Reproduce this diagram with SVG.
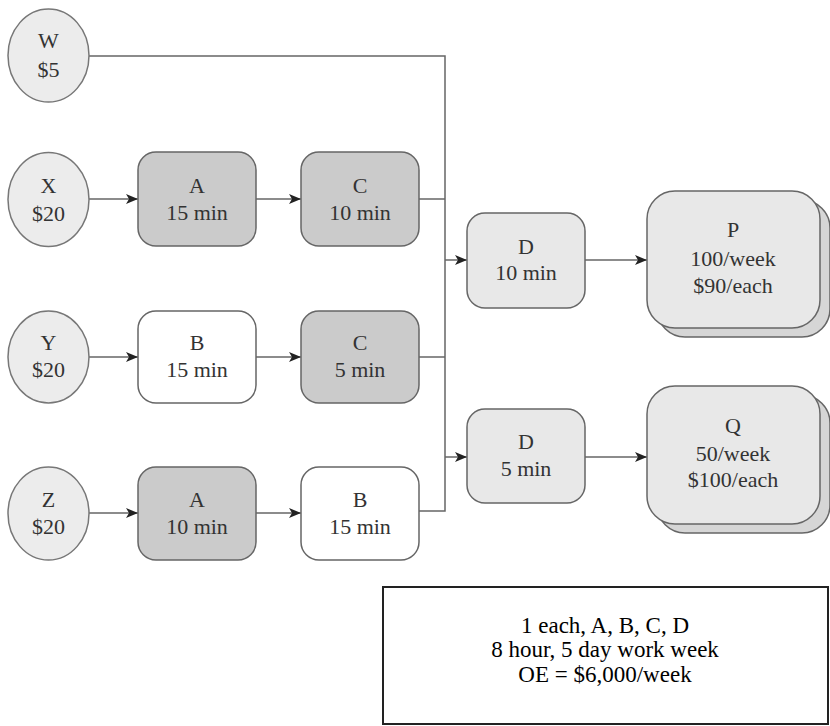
<svg xmlns="http://www.w3.org/2000/svg" width="830" height="726" viewBox="0 0 830 726">
  <defs>
    <marker id="arrow" viewBox="0 0 12 10" refX="12" refY="5" markerWidth="12" markerHeight="10" markerUnits="userSpaceOnUse" orient="auto">
      <path d="M0,0 L12,5 L0,10 L3,5 Z" fill="#222"/>
    </marker>
  </defs>
  <style>
    text { font-family: "Liberation Serif", "Times New Roman", serif; font-size: 22px; fill: #333; text-anchor: middle; }
    .src { fill: #ececec; stroke: #777; stroke-width: 1.5; }
    .dark { fill: #cbcbcb; stroke: #666; stroke-width: 1.5; }
    .white { fill: #ffffff; stroke: #666; stroke-width: 1.5; }
    .light { fill: #e8e8e8; stroke: #666; stroke-width: 1.5; }
    .shadow { fill: #d6d6d6; stroke: #666; stroke-width: 1.5; }
    .conn { fill: none; stroke: #666; stroke-width: 1.5; }
    .note { fill: #fff; stroke: #222; stroke-width: 2; }
    .note-text { font-size: 23px; fill: #000; }
  </style>

  <!-- connectors -->
  <g id="connectors">
    <path class="conn" d="M89,56 H445 V511 H419"/>
    <path class="conn" d="M419,199 H445"/>
    <path class="conn" d="M419,357 H445"/>
    <path class="conn" d="M89,199 H138" marker-end="url(#arrow)"/>
    <path class="conn" d="M256,199 H301" marker-end="url(#arrow)"/>
    <path class="conn" d="M89,357 H138" marker-end="url(#arrow)"/>
    <path class="conn" d="M256,357 H301" marker-end="url(#arrow)"/>
    <path class="conn" d="M89,513 H138" marker-end="url(#arrow)"/>
    <path class="conn" d="M256,513 H301" marker-end="url(#arrow)"/>
    <path class="conn" d="M445,260 H467" marker-end="url(#arrow)"/>
    <path class="conn" d="M445,457 H467" marker-end="url(#arrow)"/>
    <path class="conn" d="M585,260 H647" marker-end="url(#arrow)"/>
    <path class="conn" d="M585,457 H647" marker-end="url(#arrow)"/>
  </g>

  <!-- raw materials -->
  <g id="W">
    <ellipse class="src" cx="48.5" cy="55.5" rx="40.5" ry="46.5"/>
    <text x="48.5" y="48">W</text>
    <text x="48.5" y="77">$5</text>
  </g>
  <g id="X">
    <ellipse class="src" cx="48.5" cy="199.5" rx="40.5" ry="47"/>
    <text x="48.5" y="193">X</text>
    <text x="48.5" y="221">$20</text>
  </g>
  <g id="Y">
    <ellipse class="src" cx="48.5" cy="357" rx="40.5" ry="46"/>
    <text x="48.5" y="350">Y</text>
    <text x="48.5" y="377">$20</text>
  </g>
  <g id="Z">
    <ellipse class="src" cx="48.5" cy="513.5" rx="40.5" ry="46.5"/>
    <text x="48.5" y="507">Z</text>
    <text x="48.5" y="534">$20</text>
  </g>

  <!-- operations -->
  <g id="A1">
    <rect class="dark" x="138" y="152" width="118" height="94" rx="18"/>
    <text x="197" y="193">A</text>
    <text x="197" y="220">15 min</text>
  </g>
  <g id="C1">
    <rect class="dark" x="301" y="152" width="118" height="94" rx="18"/>
    <text x="360" y="193">C</text>
    <text x="360" y="220">10 min</text>
  </g>
  <g id="B1">
    <rect class="white" x="138" y="311" width="118" height="92" rx="18"/>
    <text x="197" y="350">B</text>
    <text x="197" y="377">15 min</text>
  </g>
  <g id="C2">
    <rect class="dark" x="301" y="311" width="118" height="92" rx="18"/>
    <text x="360" y="350">C</text>
    <text x="360" y="377">5 min</text>
  </g>
  <g id="A2">
    <rect class="dark" x="138" y="467" width="118" height="93" rx="18"/>
    <text x="197" y="507">A</text>
    <text x="197" y="534">10 min</text>
  </g>
  <g id="B2">
    <rect class="white" x="301" y="467" width="118" height="93" rx="18"/>
    <text x="360" y="507">B</text>
    <text x="360" y="534">15 min</text>
  </g>
  <g id="D1">
    <rect class="light" x="467" y="213" width="118" height="95" rx="18"/>
    <text x="526" y="254">D</text>
    <text x="526" y="280">10 min</text>
  </g>
  <g id="D2">
    <rect class="light" x="467" y="409" width="118" height="94" rx="18"/>
    <text x="526" y="449">D</text>
    <text x="526" y="476">5 min</text>
  </g>

  <!-- products -->
  <g id="P">
    <rect class="shadow" x="657" y="200" width="173" height="137" rx="28"/>
    <rect class="light" x="647" y="191" width="173" height="137" rx="28"/>
    <text x="733" y="237">P</text>
    <text x="733" y="266">100/week</text>
    <text x="733" y="293">$90/each</text>
  </g>
  <g id="Q">
    <rect class="shadow" x="657" y="395" width="173" height="138" rx="28"/>
    <rect class="light" x="647" y="386" width="173" height="138" rx="28"/>
    <text x="733" y="433">Q</text>
    <text x="733" y="461">50/week</text>
    <text x="733" y="487">$100/each</text>
  </g>

  <!-- assumptions -->
  <g id="notes">
    <rect class="note" x="383" y="587" width="445" height="137"/>
    <text class="note-text" x="605" y="633">1 each, A, B, C, D</text>
    <text class="note-text" x="605" y="657">8 hour, 5 day work week</text>
    <text class="note-text" x="605" y="682">OE = $6,000/week</text>
  </g>
</svg>
